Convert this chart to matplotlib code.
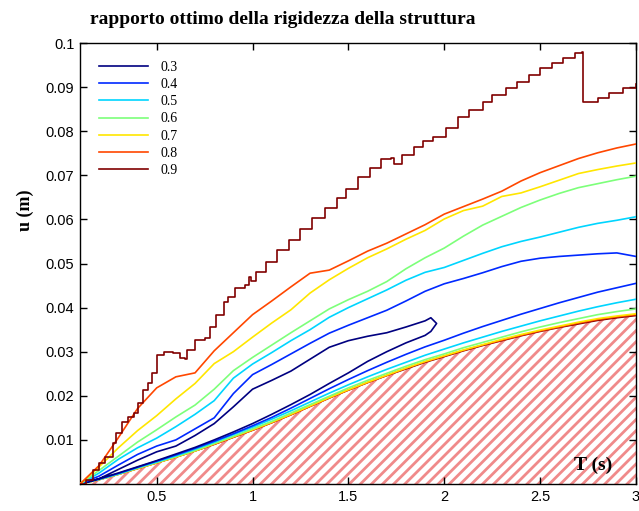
import numpy as np
import matplotlib
matplotlib.use("Agg")
import matplotlib.pyplot as plt

# ratios and periods
ratios = ["0.3", "0.4", "0.5", "0.6", "0.7", "0.8", "0.9"]
T = [0.1, 0.2, 0.3, 0.4, 0.5, 0.6, 0.7, 0.8, 0.9, 1.0,
     1.1, 1.2, 1.3, 1.4, 1.5, 1.6, 1.7, 1.8, 1.9, 2.0,
     2.1, 2.2, 2.3, 2.4, 2.5, 2.6, 2.7, 2.8, 2.9, 3.0]

# upper branches (u in m)
up_04 = [0, .0018, .0043, .0067, .0086, .0100, .0125, .0150, .0205, .0248,
         .0271, .0295, .0319, .0342, .0360, .0377, .0394, .0415, .0437, .0454,
         .0466, .0479, .0493, .0505, .0512, .0516, .0519, .0522, .0524, .0516]
up_05 = [0, .0025, .0056, .0082, .0104, .0130, .0158, .0189, .0240, .0272,
         .0298, .0325, .0350, .0378, .0400, .0420, .0440, .0462, .0480, .0491,
         .0507, .0523, .0538, .0550, .0560, .0571, .0582, .0591, .0598, .0606]
up_06 = [0, .0031, .0063, .0095, .0123, .0152, .0179, .0215, .0257, .0287,
         .0315, .0343, .0370, .0397, .0418, .0437, .0459, .0488, .0513, .0535,
         .0562, .0587, .0607, .0627, .0644, .0659, .0672, .0681, .0690, .0698]
up_07 = [0, .0039, .0082, .0121, .0155, .0193, .0228, .0273, .0300, .0333,
         .0365, .0395, .0433, .0463, .0489, .0513, .0533, .0555, .0575, .0601,
         .0620, .0630, .0652, .0660, .0674, .0689, .0704, .0713, .0721, .0728]
up_08 = [0, .0042, .0105, .0171, .0218, .0243, .0252, .0302, .0343, .0384,
         .0415, .0447, .0478, .0485, .0506, .0528, .0546, .0567, .0588, .0612,
         .0629, .0646, .0664, .0687, .0706, .0722, .0738, .0751, .0762, .0771]

# lower branches
lo_04 = [0, .0011, .0024, .0038, .0052, .0066, .0081, .0097, .0114, .0132,
         .0151, .0172, .0194, .0216, .0237, .0257, .0276, .0294, .0311, .0326,
         .0342, .0357, .0371, .0385, .0398, .0411, .0423, .0435, .0445, .0455]
lo_05 = [0, .0011, .0023, .0037, .0050, .0064, .0079, .0095, .0112, .0129,
         .0147, .0166, .0186, .0206, .0225, .0243, .0260, .0276, .0292, .0306,
         .0320, .0333, .0346, .0358, .0370, .0381, .0392, .0402, .0411, .0419]
lo_06 = [0, .0010, .0022, .0036, .0049, .0062, .0076, .0092, .0108, .0125,
         .0142, .0161, .0180, .0199, .0218, .0235, .0251, .0267, .0282, .0295,
         .0309, .0321, .0333, .0345, .0356, .0366, .0375, .0384, .0391, .0397]
lo_07 = [0, .0010, .0022, .0035, .0048, .0061, .0075, .0091, .0107, .0123,
         .0140, .0158, .0177, .0196, .0214, .0231, .0247, .0263, .0278, .0291,
         .0304, .0316, .0328, .0339, .0349, .0358, .0367, .0375, .0381, .0386]
lo_08 = [0, .0010, .0022, .0035, .0048, .0061, .0075, .0090, .0106, .0122,
         .0139, .0157, .0176, .0195, .0213, .0230, .0246, .0262, .0277, .0290,
         .0303, .0315, .0326, .0337, .0347, .0356, .0365, .0373, .0379, .0384]
lo_09 = [0, .0010, .0022, .0035, .0048, .0061, .0075, .0090, .0106, .0122,
         .0139, .0157, .0176, .0195, .0213, .0230, .0246, .0261, .0276, .0289,
         .0302, .0314, .0325, .0336, .0346, .0355, .0363, .0371, .0377, .0382]

# 0.3: closed loop, upper branch out to T~1.96 and back along the lower one
T_03 = [0.1, 0.2, 0.3, 0.4, 0.5, 0.6, 0.7, 0.8, 0.9, 1.0, 1.1, 1.2, 1.3, 1.4,
        1.5, 1.6, 1.7, 1.8, 1.9, 1.93, 1.96, 1.93,
        1.9, 1.8, 1.7, 1.6, 1.5, 1.4, 1.3, 1.2, 1.1, 1.0, 0.9, 0.8, 0.7,
        0.6, 0.5, 0.4, 0.3, 0.2, 0.1]
u_03 = [0, .0012, .0033, .0054, .0073, .0086, .0110, .0137, .0175, .0215,
        .0235, .0256, .0283, .0310, .0325, .0335, .0343, .0356, .0370,
        .0377, .0364, .0346,
        .0337, .0320, .0300, .0278, .0252, .0228, .0203, .0180, .0158,
        .0137, .0118, .0100, .0083, .0068, .0053, .0039, .0025, .0012, 0]

# 0.9 upper branch, finer steps
T_09 = [0.10, 0.13, 0.168, 0.20, 0.23, 0.27, 0.29, 0.32, 0.35, 0.38, 0.40,
        0.43, 0.455, 0.475, 0.50, 0.54, 0.585, 0.62, 0.65, 0.66, 0.70, 0.75,
        0.78, 0.81, 0.85, 0.87, 0.91, 0.96, 0.98, 0.99, 1.02, 1.07, 1.13,
        1.19, 1.25, 1.31, 1.38, 1.44, 1.49, 1.55, 1.61, 1.67, 1.72, 1.74,
        1.78, 1.84, 1.89, 1.94, 2.01, 2.07, 2.13, 2.20, 2.25, 2.32, 2.38,
        2.44, 2.50, 2.56, 2.62, 2.68, 2.72, 2.725, 2.80, 2.86, 2.93, 3.0]
u_09 = [0, .0008, .0032, .0048, .0062, .0093, .0116, .0140, .0152, .0160,
        .0184, .0213, .0229, .0252, .0293, .0300, .0297, .0286, .0283, .0304,
        .0327, .0330, .0356, .0383, .0413, .0424, .0444, .0451, .0470, .0460,
        .0480, .0503, .0530, .0553, .0578, .0603, .0626, .0649, .0670, .0696,
        .0717, .0737, .0740, .0725, .0746, .0764, .0778, .0787, .0807, .0832,
        .0848, .0866, .0882, .0898, .0912, .0927, .0943, .0955, .0966, .0977,
        .0980, .0866, .0875, .0887, .0898, .0907]

serif = "Liberation Serif"
plt.rcParams["font.family"] = "Liberation Sans"
plt.rcParams["hatch.linewidth"] = 2.0

fig = plt.figure(figsize=(6.39, 5.11), dpi=100)
ax = fig.add_axes([80/639, 27/511, 556/639, 441/511])

colors = plt.cm.jet(np.linspace(0, 1, 7))
lw = 1.2

# region below the 0.9 lower branch
ax.fill_between(T, 0, lo_09, facecolor="white", edgecolor="#f08a8a",
                hatch="///", linewidth=0, zorder=1)

lowers = [lo_04, lo_05, lo_06, lo_07, lo_08, lo_09]
uppers = [up_04, up_05, up_06, up_07, up_08]
for i in range(5, -1, -1):
    ax.plot(T, lowers[i], color=colors[i+1], lw=lw, zorder=3)

handles = []
h, = ax.plot(T_03, u_03, color=colors[0], lw=lw, zorder=3)
handles.append(h)
for i in range(5):
    h, = ax.plot(T, uppers[i], color=colors[i+1], lw=lw, zorder=3)
    handles.append(h)
h, = ax.plot(T_09, u_09, color=colors[6], lw=lw, drawstyle="steps-post", zorder=3)
handles.append(h)

ax.set_xlim(0.1, 3.0)
ax.set_ylim(0, 0.1)
ax.set_xticks([0.5, 1, 1.5, 2, 2.5, 3])
ax.set_xticklabels(["0.5", "1", "1.5", "2", "2.5", "3"])
ax.set_yticks([0.01, 0.02, 0.03, 0.04, 0.05, 0.06, 0.07, 0.08, 0.09, 0.1])
ax.set_yticklabels(["0.01", "0.02", "0.03", "0.04", "0.05", "0.06", "0.07",
                    "0.08", "0.09", "0.1"])
ax.tick_params(direction="in", top=True, right=True, length=5, width=1,
               labelsize=10.5, pad=4)
for s in ax.spines.values():
    s.set_linewidth(1)

ax.legend(handles, ratios, loc="upper left", bbox_to_anchor=(0.022, 0.975),
          frameon=False, borderpad=0, handlelength=3.5, handletextpad=0.9,
          labelspacing=0.3, prop={"family": serif, "size": 10})

fig.text(283/639, 1 - 20/511, "rapporto ottimo della rigidezza della struttura",
         ha="center", va="center", family=serif, weight="bold", fontsize=14)
fig.text(25/639, 1 - 210/511, "u (m)", rotation=90, ha="center", va="center",
         family=serif, weight="bold", fontsize=13)
ax.text(0.923, 0.042, "T (s)", transform=ax.transAxes, ha="center", va="center",
        family=serif, weight="bold", fontsize=14, zorder=5)

plt.savefig("out.png", dpi=100)
